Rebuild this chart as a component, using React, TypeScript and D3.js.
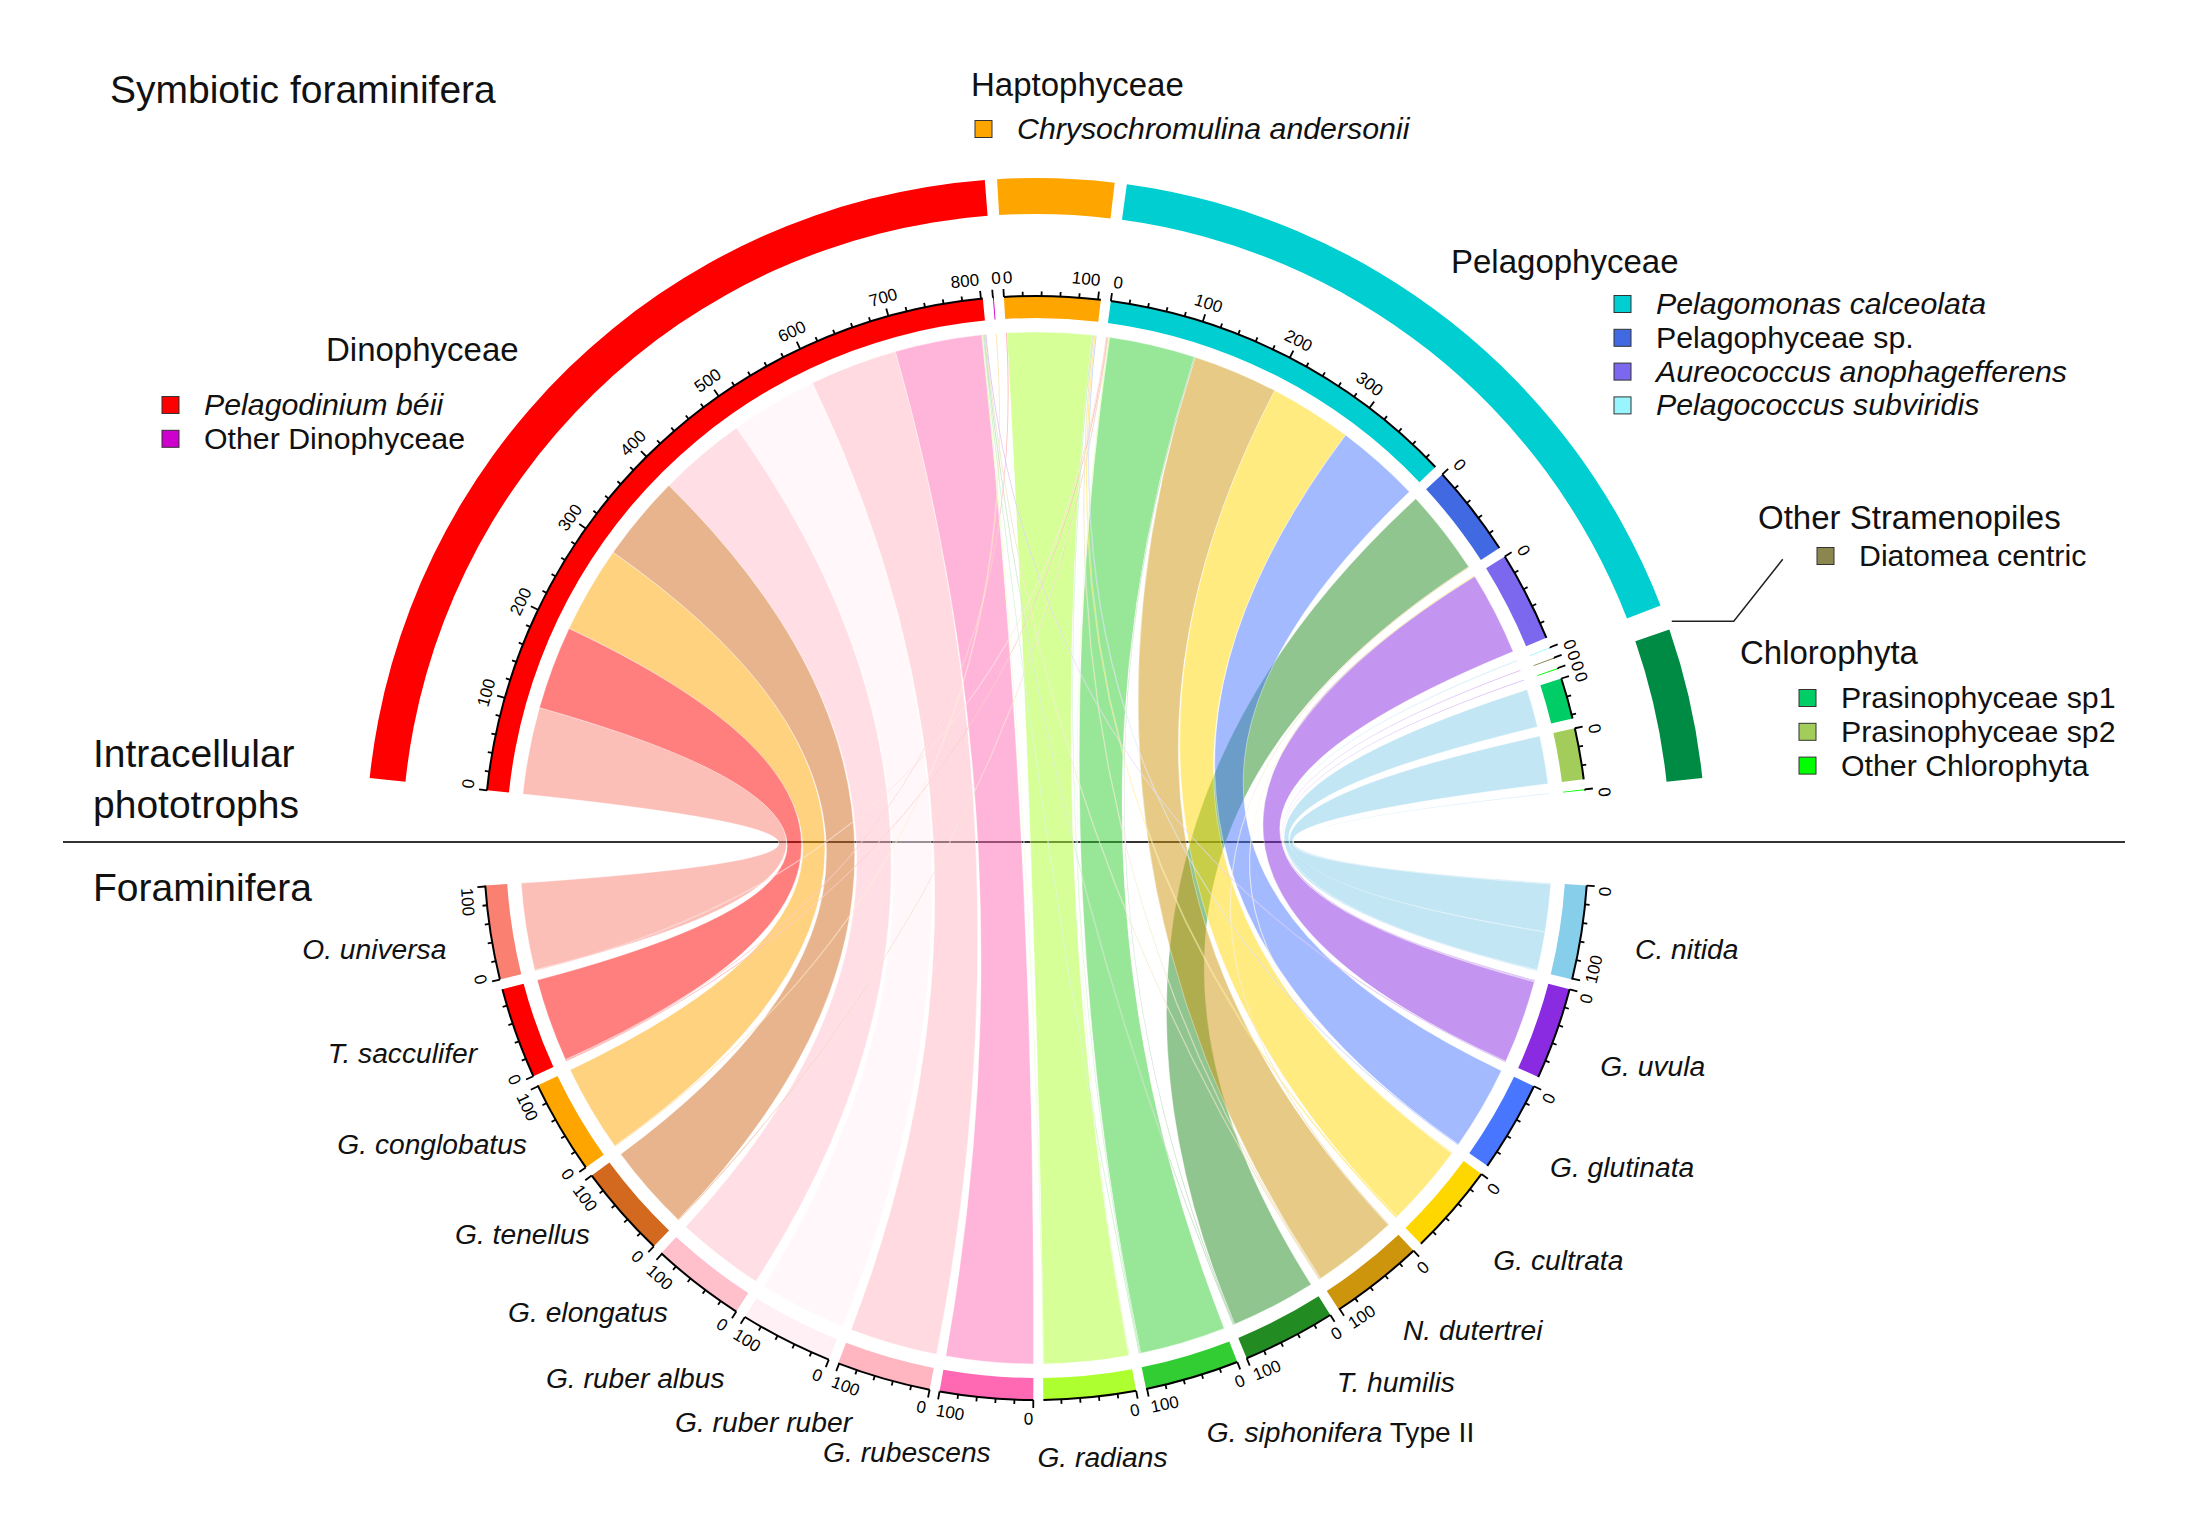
import React, { useMemo } from 'react';
import * as d3 from 'd3';

const W = 2207;
const H = 1519;
const CX = 1036;
const CY = 848;

// Upper half sectors (intracellular phototrophs), clockwise from the left
const phototrophs = [
  'Pelagodinium béii',
  'Other Dinophyceae',
  'Chrysochromulina andersonii',
  'Pelagomonas calceolata',
  'Pelagophyceae sp.',
  'Aureococcus anophagefferens',
  'Pelagococcus subviridis',
  'Diatomea centric',
  'Other Chlorophyta (a)',
  'Prasinophyceae sp1',
  'Prasinophyceae sp2',
  'Other Chlorophyta',
];
const phototrophColors = [
  '#ff0000', '#cd00cd', '#ffa500', '#00ced1', '#4169e1', '#7b68ee',
  '#98f5ff', '#8b864e', '#00ff00', '#00cd66', '#a2cd5a', '#00ff00',
];
const phototrophGroups = [
  'Dinophyceae', 'Dinophyceae', 'Haptophyceae', 'Pelagophyceae', 'Pelagophyceae', 'Pelagophyceae',
  'Pelagophyceae', 'Other Stramenopiles', 'Chlorophyta', 'Chlorophyta', 'Chlorophyta', 'Chlorophyta',
];

const groups = ['Dinophyceae', 'Haptophyceae', 'Pelagophyceae', 'Other Stramenopiles', 'Chlorophyta'];
const groupColors = ['#ff0000', '#ffa500', '#00ced1', '#8b864e', '#008b45'];
const groupLegend = [
  ['Pelagodinium béii', 'Other Dinophyceae'],
  ['Chrysochromulina andersonii'],
  ['Pelagomonas calceolata', 'Pelagophyceae sp.', 'Aureococcus anophagefferens', 'Pelagococcus subviridis'],
  ['Diatomea centric'],
  ['Prasinophyceae sp1', 'Prasinophyceae sp2', 'Other Chlorophyta'],
];
const italicNames = [
  'Pelagodinium béii', 'Chrysochromulina andersonii', 'Pelagomonas calceolata',
  'Aureococcus anophagefferens', 'Pelagococcus subviridis',
];

// Lower half sectors (foraminifera), clockwise from the right
const forams = [
  'C. nitida', 'G. uvula', 'G. glutinata', 'G. cultrata', 'N. dutertrei', 'T. humilis',
  'G. siphonifera Type II', 'G. radians', 'G. rubescens', 'G. ruber ruber', 'G. ruber albus',
  'G. elongatus', 'G. tenellus', 'G. conglobatus', 'T. sacculifer', 'O. universa',
];
const foramColors = [
  '#87ceeb', '#8a2be2', '#4876ff', '#ffd700', '#cd950c', '#228b22',
  '#32cd32', '#adff2f', '#ff69b4', '#ffb6c1', '#fff0f5',
  '#ffc0cb', '#d2691e', '#ffa500', '#ff0000', '#fa8072',
];

// foraminifera -> phototroph, value
const links: [string, string, number][] = [
  ['O. universa', 'Pelagodinium béii', 100],
  ['O. universa', 'Pelagomonas calceolata', 1],
  ['T. sacculifer', 'Pelagodinium béii', 96],
  ['T. sacculifer', 'Chrysochromulina andersonii', 1],
  ['T. sacculifer', 'Pelagomonas calceolata', 1],
  ['G. conglobatus', 'Pelagodinium béii', 100],
  ['G. conglobatus', 'Other Dinophyceae', 1],
  ['G. tenellus', 'Pelagodinium béii', 99],
  ['G. tenellus', 'Pelagomonas calceolata', 1],
  ['G. elongatus', 'Pelagodinium béii', 101],
  ['G. ruber albus', 'Pelagodinium béii', 100],
  ['G. ruber ruber', 'Pelagodinium béii', 101],
  ['G. rubescens', 'Pelagodinium béii', 100],
  ['G. radians', 'Chrysochromulina andersonii', 97],
  ['G. radians', 'Pelagodinium béii', 1],
  ['G. radians', 'Pelagomonas calceolata', 1],
  ['G. siphonifera Type II', 'Pelagomonas calceolata', 99],
  ['G. siphonifera Type II', 'Pelagodinium béii', 1],
  ['G. siphonifera Type II', 'Chrysochromulina andersonii', 1],
  ['T. humilis', 'Pelagophyceae sp.', 98],
  ['T. humilis', 'Pelagodinium béii', 1],
  ['T. humilis', 'Pelagomonas calceolata', 1],
  ['N. dutertrei', 'Pelagomonas calceolata', 98],
  ['N. dutertrei', 'Pelagodinium béii', 1],
  ['N. dutertrei', 'Chrysochromulina andersonii', 1],
  ['N. dutertrei', 'Pelagophyceae sp.', 1],
  ['G. cultrata', 'Pelagomonas calceolata', 95],
  ['G. cultrata', 'Chrysochromulina andersonii', 2],
  ['G. cultrata', 'Aureococcus anophagefferens', 1],
  ['G. glutinata', 'Pelagomonas calceolata', 97],
  ['G. glutinata', 'Chrysochromulina andersonii', 1],
  ['G. uvula', 'Aureococcus anophagefferens', 96],
  ['G. uvula', 'Pelagodinium béii', 1],
  ['G. uvula', 'Diatomea centric', 1],
  ['G. uvula', 'Other Chlorophyta (a)', 1],
  ['C. nitida', 'Prasinophyceae sp2', 55],
  ['C. nitida', 'Prasinophyceae sp1', 44],
  ['C. nitida', 'Pelagococcus subviridis', 1],
  ['C. nitida', 'Other Chlorophyta', 1],
];

const DEG = Math.PI / 180;
const SMALL_GAP = 1.05;
const BIG_GAP = 9.9;
const R_CHORD = 516;
const R_IN = 530;
const R_OUT = 552;
const R_LABEL = 571;
const R_RING_IN = 634;
const R_RING_OUT = 670;
const R_NAME = 600;
const FONT = "'Liberation Sans', Arial, Helvetica, sans-serif";

const legendPos: Record<string, { tx: number; ty: number; sx: number; sy: number }> = {
  Dinophyceae: { tx: 326, ty: 361, sx: 162, sy: 405 },
  Haptophyceae: { tx: 971, ty: 96, sx: 975, sy: 129 },
  Pelagophyceae: { tx: 1451, ty: 273, sx: 1614, sy: 304 },
  'Other Stramenopiles': { tx: 1758, ty: 529, sx: 1817, sy: 556 },
  Chlorophyta: { tx: 1740, ty: 664, sx: 1799, sy: 698 },
};

// hand placement of the species names around the lower half (px)
const nameNudge: Record<string, [number, number]> = {
  'O. universa': [4, 14],
  'T. sacculifer': [8, 8],
  'G. conglobatus': [11, -3],
  'G. tenellus': [8, -6],
  'G. elongatus': [4, -7],
  'G. ruber albus': [-35, -3],
  'G. ruber ruber': [-13, -1],
  'G. rubescens': [14, 7],
  'G. radians': [13, 11],
  'G. siphonifera Type II': [6, 7],
  'T. humilis': [30, -1],
  'N. dutertrei': [0, 7],
  'G. cultrata': [8, 14],
  'G. glutinata': [-1, 11],
  'G. uvula': [1, 11],
  'C. nitida': [7, 4],
};

const pt = (r: number, deg: number): [number, number] => [r * Math.sin(deg * DEG), -r * Math.cos(deg * DEG)];

function computeLayout() {
  const names = [...phototrophs, ...forams];
  const N = names.length;
  const nUp = phototrophs.length;
  const idx = new Map(names.map((n, i) => [n, i]));
  const totals = names.map((n) => d3.sum(links.filter((l) => l[0] === n || l[1] === n), (l) => l[2]));
  const unit = (360 - (N - 2) * SMALL_GAP - 2 * BIG_GAP) / d3.sum(totals);

  const starts: number[] = [];
  let a = -(d3.sum(totals.slice(0, nUp)) * unit + (nUp - 1) * SMALL_GAP) / 2;
  for (let i = 0; i < nUp; i++) {
    starts[i] = a;
    a += totals[i] * unit + SMALL_GAP;
  }
  a = 180 - (d3.sum(totals.slice(nUp)) * unit + (N - nUp - 1) * SMALL_GAP) / 2;
  for (let i = nUp; i < N; i++) {
    starts[i] = a;
    a += totals[i] * unit + SMALL_GAP;
  }

  const ends = new Map<string, [number, number]>();
  for (let i = 0; i < N; i++) {
    const mine = links
      .map((l, li) => ({ l, li }))
      .filter(({ l }) => idx.get(l[0]) === i || idx.get(l[1]) === i)
      .map(({ l, li }) => ({ li, j: (idx.get(l[0]) === i ? idx.get(l[1]) : idx.get(l[0])) as number, v: l[2] }));
    mine.sort((p, q) => ((q.j - i + N) % N) - ((p.j - i + N) % N));
    let s = starts[i];
    for (const m of mine) {
      ends.set(`${m.li}:${i}`, [s, s + m.v * unit]);
      s += m.v * unit;
    }
  }

  const ribbon = d3.ribbon<any, any>().radius(R_CHORD);
  const chords = links.map((l, li) => {
    const j = idx.get(l[0]) as number;
    const i = idx.get(l[1]) as number;
    const [s0, s1] = ends.get(`${li}:${i}`)!;
    const [t0, t1] = ends.get(`${li}:${j}`)!;
    return {
      key: li,
      d: ribbon({
        source: { startAngle: s0 * DEG, endAngle: s1 * DEG },
        target: { startAngle: t0 * DEG, endAngle: t1 * DEG },
      }) as unknown as string,
      color: foramColors[j - nUp],
      size: l[2],
    };
  });
  chords.sort((p, q) => q.size - p.size);

  const sectors = names.map((n, i) => ({
    name: n,
    i,
    upper: i < nUp,
    start: starts[i],
    end: starts[i] + totals[i] * unit,
    total: totals[i],
    color: i < nUp ? phototrophColors[i] : foramColors[i - nUp],
  }));
  return { sectors, chords, unit };
}

export default function App() {
  const { sectors, chords, unit } = useMemo(computeLayout, []);
  const trackArc = d3.arc<any>().innerRadius(R_IN).outerRadius(R_OUT);
  const ringArc = d3.arc<any>().innerRadius(R_RING_IN).outerRadius(R_RING_OUT);

  const groupSpans = groups.map((g, gi) => {
    const ss = sectors.filter((s) => s.upper && phototrophGroups[s.i] === g);
    return { g, gi, start: d3.min(ss, (s) => s.start)!, end: d3.max(ss, (s) => s.end)!, total: d3.sum(ss, (s) => s.total) };
  });

  const stram = sectors.find((s) => s.name === 'Diatomea centric')!;
  const [lx, ly] = pt(R_RING_OUT + 5, (stram.start + stram.end) / 2 + 0.5);

  return (
    <svg
      width={W}
      height={H}
      viewBox={`0 0 ${W} ${H}`}
      style={{ position: 'absolute', left: 0, top: 0, background: '#fff' }}
      fontFamily={FONT}
    >
      <rect width={W} height={H} fill="#fff" />

      <line x1={63} x2={2125} y1={842} y2={842} stroke="#333" strokeWidth={2} />

      <g transform={`translate(${CX},${CY})`}>
        {chords.map((c) => (
          <path key={c.key} d={c.d} fill={c.color} fillOpacity={0.5} stroke="#fff" strokeOpacity={0.5} strokeWidth={0.8} />
        ))}

        {sectors.map((s) => (
          <path
            key={`t${s.i}`}
            d={trackArc({ startAngle: s.start * DEG, endAngle: s.end * DEG }) as string}
            fill={s.color}
          />
        ))}

        {groupSpans
          .filter((g) => g.total > 2)
          .map((g) => (
            <path
              key={`g${g.gi}`}
              d={ringArc({ startAngle: g.start * DEG, endAngle: g.end * DEG }) as string}
              fill={groupColors[g.gi]}
            />
          ))}

        {sectors.map((s) => {
          const p = d3.path();
          p.arc(0, 0, R_OUT, (s.start - 90) * DEG, (s.end - 90) * DEG, false);
          const minors = d3.range(0, s.total + 1e-9, 20);
          const majors = d3.range(0, s.total + 1e-9, 100);
          return (
            <g key={`a${s.i}`}>
              <path d={p.toString()} fill="none" stroke="#000" strokeWidth={2} />
              {minors.map((v) => {
                const ang = s.start + v * unit;
                const len = v % 100 === 0 ? 8 : 4.5;
                const [x1, y1] = pt(R_OUT, ang);
                const [x2, y2] = pt(R_OUT + len, ang);
                return <line key={v} x1={x1} y1={y1} x2={x2} y2={y2} stroke="#000" strokeWidth={1.8} />;
              })}
              {majors.map((v, m) => {
                const ang = s.start + v * unit;
                const [x, y] = pt(R_LABEL, ang);
                const rot = s.upper ? ang : ang - 180;
                let anchor = 'middle';
                if (m === 0) anchor = s.upper ? 'start' : 'end';
                else if (m === majors.length - 1) anchor = s.upper ? 'end' : 'start';
                return (
                  <text
                    key={`l${v}`}
                    transform={`translate(${x},${y}) rotate(${rot})`}
                    textAnchor={anchor}
                    dominantBaseline="central"
                    fontSize={17}
                    fill="#000"
                  >
                    {v}
                  </text>
                );
              })}
            </g>
          );
        })}

        {sectors
          .filter((s) => !s.upper)
          .map((s) => {
            const mid = (s.start + s.end) / 2 + 0.5;
            const [x, y] = pt(R_NAME, mid);
            const [dx, dy] = nameNudge[s.name] ?? [0, 0];
            const anchor = mid > 180 ? 'end' : mid > 172 ? 'middle' : 'start';
            const typeIdx = s.name.indexOf(' Type');
            return (
              <text
                key={`n${s.i}`}
                x={x + dx}
                y={y + dy}
                textAnchor={anchor}
                dominantBaseline="central"
                fontSize={28.2}
                fill="#111"
              >
                {typeIdx > 0 ? (
                  <>
                    <tspan fontStyle="italic">{s.name.slice(0, typeIdx)}</tspan>
                    <tspan>{s.name.slice(typeIdx)}</tspan>
                  </>
                ) : (
                  <tspan fontStyle="italic">{s.name}</tspan>
                )}
              </text>
            );
          })}

        <polyline
          points={`${lx},${ly} ${lx + 62},${ly} ${lx + 111},${ly - 62}`}
          fill="none"
          stroke="#222"
          strokeWidth={1.5}
        />
      </g>

      {/* titles */}
      <text x={110} y={103} fontSize={39} fill="#111">Symbiotic foraminifera</text>
      <text x={93} y={767} fontSize={39} fill="#111">Intracellular</text>
      <text x={93} y={818} fontSize={39} fill="#111">phototrophs</text>
      <text x={93} y={901} fontSize={39} fill="#111">Foraminifera</text>

      {/* legends */}
      {groups.map((g, gi) => {
        const pos = legendPos[g];
        return (
          <g key={g}>
            <text x={pos.tx} y={pos.ty} fontSize={33} fill="#111">{g}</text>
            {groupLegend[gi].map((n, k) => {
              const cy = pos.sy + k * 33.8;
              const ci = phototrophs.indexOf(n);
              return (
                <g key={n}>
                  <rect x={pos.sx} y={cy - 8.5} width={17} height={17} fill={phototrophColors[ci]} stroke="#333" strokeWidth={1} />
                  <text
                    x={pos.sx + 42}
                    y={cy + 10}
                    fontSize={30.3}
                    fill="#111"
                    fontStyle={italicNames.includes(n) ? 'italic' : 'normal'}
                  >
                    {n}
                  </text>
                </g>
              );
            })}
          </g>
        );
      })}
    </svg>
  );
}
